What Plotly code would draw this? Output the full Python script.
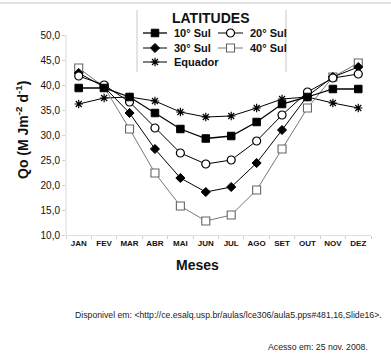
import plotly.graph_objects as go

meses = ["JAN", "FEV", "MAR", "ABR", "MAI", "JUN", "JUL", "AGO", "SET", "OUT", "NOV", "DEZ"]
sul10 = [39.4, 39.4, 37.6, 34.4, 31.2, 29.3, 29.8, 32.6, 36.2, 37.6, 39.2, 39.2]
sul20 = [41.8, 40.0, 36.6, 31.4, 26.4, 24.2, 25.0, 28.8, 34.0, 38.6, 41.4, 42.2]
sul30 = [42.4, 39.6, 34.4, 27.2, 21.4, 18.6, 19.6, 24.4, 31.0, 37.8, 41.6, 43.6]
sul40 = [43.4, 39.6, 31.2, 22.4, 15.8, 12.8, 14.0, 19.0, 27.2, 35.4, 41.6, 44.4]
equador = [36.2, 37.4, 37.6, 36.8, 34.6, 33.6, 33.8, 35.4, 37.2, 37.6, 36.4, 35.4]
yticks = [10, 15, 20, 25, 30, 35, 40, 45, 50]

W, H = 391, 355
ML, MR, MT, MB = 66, 20, 5, 120
PW, PH = W - ML - MR, H - MT - MB
FONT = "Arial, Liberation Sans, sans-serif"


def px(x):
    return (x - ML) / PW


def py(y):
    return (H - MB - y) / PH


styles = {
    "10° Sul": dict(line=dict(color="#000", width=1.3),
                    marker=dict(symbol="square", size=7.5, color="#000", line=dict(color="#000", width=1))),
    "20° Sul": dict(line=dict(color="#000", width=1),
                    marker=dict(symbol="circle", size=8, color="#fff", line=dict(color="#000", width=1.2))),
    "30° Sul": dict(line=dict(color="#000", width=1),
                    marker=dict(symbol="diamond", size=7, color="#000", line=dict(color="#000", width=1))),
    "40° Sul": dict(line=dict(color="#777", width=1),
                    marker=dict(symbol="square", size=8, color="#fff", line=dict(color="#666", width=1.1))),
    "Equador": dict(line=dict(color="#000", width=1),
                    marker=dict(symbol="asterisk-open", size=7, color="#000", line=dict(color="#000", width=1.2))),
}
series = {"10° Sul": sul10, "20° Sul": sul20, "30° Sul": sul30, "40° Sul": sul40, "Equador": equador}

fig = go.Figure()
for name in ["Equador", "40° Sul", "30° Sul", "20° Sul", "10° Sul"]:
    fig.add_trace(go.Scatter(x=meses, y=series[name], mode="lines+markers", name=name,
                             showlegend=False, cliponaxis=False, **styles[name]))

# manual legend (overlay axis in pixel units)
leg_pos = {"10° Sul": (143, 167, 33), "30° Sul": (143, 167, 48), "Equador": (143, 167, 62),
           "20° Sul": (218, 243, 33), "40° Sul": (218, 243, 48)}
annotations = []
for name, (x0, x1, yy) in leg_pos.items():
    fig.add_trace(go.Scatter(x=[x0, x1], y=[yy, yy], mode="lines", xaxis="x2", yaxis="y2",
                             showlegend=False, hoverinfo="skip", cliponaxis=False,
                             line=styles[name]["line"]))
    fig.add_trace(go.Scatter(x=[(x0 + x1) / 2], y=[yy], mode="markers", xaxis="x2", yaxis="y2",
                             showlegend=False, hoverinfo="skip", cliponaxis=False,
                             marker=styles[name]["marker"]))
    annotations.append(dict(x=px(x1 + 5), y=py(yy), xref="paper", yref="paper", text="<b>%s</b>" % name,
                            showarrow=False, xanchor="left", yanchor="middle",
                            font=dict(family=FONT, size=11, color="#111")))

annotations += [
    dict(x=px(211), y=py(18), xref="paper", yref="paper", text="<b>LATITUDES</b>", showarrow=False,
         xanchor="center", yanchor="middle", font=dict(family=FONT, size=14, color="#111")),
    dict(x=px(22), y=py(130), xref="paper", yref="paper",
         text="<b>Qo (M Jm<sup>-2</sup> d<sup>-1</sup>)</b>", showarrow=False, textangle=-90,
         xanchor="center", yanchor="middle", font=dict(family=FONT, size=14, color="#111")),
    dict(x=px(197), y=py(265), xref="paper", yref="paper", text="<b>Meses</b>", showarrow=False,
         xanchor="center", yanchor="middle", font=dict(family=FONT, size=14, color="#111")),
    dict(x=px(384), y=py(315), xref="paper", yref="paper",
         text="Disponivel em: &lt;http://ce.esalq.usp.br/aulas/lce306/aula5.pps#481,16,Slide16&gt;.",
         showarrow=False, xanchor="right", yanchor="middle",
         font=dict(family=FONT, size=8.7, color="#222")),
    dict(x=px(370), y=py(347), xref="paper", yref="paper", text="Acesso em: 25 nov. 2008.",
         showarrow=False, xanchor="right", yanchor="middle",
         font=dict(family=FONT, size=8.7, color="#222")),
]

shapes = [
    dict(type="line", xref="paper", yref="y", x0=0, x1=0, y0=10, y1=50,
         line=dict(color="#d8d8d8", width=1)),
    dict(type="line", xref="paper", yref="paper", x0=px(137), x1=px(137), y0=py(10), y1=py(72),
         line=dict(color="#c8c8c8", width=1)),
    dict(type="line", xref="paper", yref="paper", x0=px(286), x1=px(286), y0=py(10), y1=py(72),
         line=dict(color="#c8c8c8", width=1)),
    dict(type="line", xref="paper", yref="paper", x0=px(0), x1=px(W), y0=py(3), y1=py(3),
         line=dict(color="#e2e2e2", width=2)),
]

fig.update_layout(
    width=W, height=H, margin=dict(l=ML, r=MR, t=MT, b=MB),
    paper_bgcolor="white", plot_bgcolor="white", separators=",.",
    font=dict(family=FONT, color="#111"),
    annotations=annotations, shapes=shapes,
    xaxis=dict(type="category", range=[-0.5, 11.5], showgrid=False, zeroline=False,
               showline=True, linecolor="#e0e0e0", linewidth=1, ticks="outside", ticklen=3,
               tickcolor="#d0d0d0", tickson="boundaries", tickangle=0,
               tickfont=dict(family=FONT, size=8, color="#111"), tickprefix="<b>", ticksuffix="</b>"),
    yaxis=dict(range=[10, 56], tickvals=yticks, tickformat=".1f", showgrid=False, zeroline=False,
               showline=False, ticks="outside", ticklen=3, tickcolor="#d0d0d0",
               tickfont=dict(family=FONT, size=10, color="#111"), tickprefix="<b>", ticksuffix="</b>"),
    xaxis2=dict(overlaying="x", range=[ML, W - MR], visible=False, fixedrange=True),
    yaxis2=dict(overlaying="y", range=[H - MB, MT], visible=False, fixedrange=True),
)

fig.write_html("out.html", config={"displayModeBar": False},
               post_script="document.body.style.margin='0';document.body.style.padding='0';")
